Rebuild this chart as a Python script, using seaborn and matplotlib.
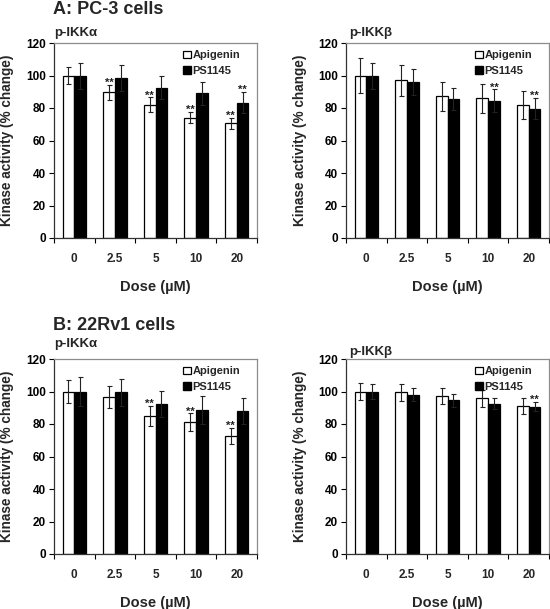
import pandas as pd
import matplotlib
matplotlib.use("Agg")
import matplotlib.pyplot as plt
import matplotlib.patches as mpatches
from matplotlib.ticker import FixedLocator
import seaborn as sns

# Dose levels (x categories)
doses = ["0", "2.5", "5", "10", "20"]
treatments = ["Apigenin", "PS1145"]

# A: PC-3 cells, p-IKKα
pc3_ikka_apigenin = [100, 89.7, 82, 74, 70.5]
pc3_ikka_apigenin_err = [5, 4.5, 4.5, 3.5, 3.5]
pc3_ikka_ps1145 = [100, 98.3, 92.5, 89, 83.3]
pc3_ikka_ps1145_err = [8, 8, 7, 7, 6.5]
pc3_ikka_apigenin_sig = [False, True, True, True, True]
pc3_ikka_ps1145_sig = [False, False, False, False, True]

# A: PC-3 cells, p-IKKβ
pc3_ikkb_apigenin = [100, 97, 87.3, 86, 82]
pc3_ikkb_apigenin_err = [10.5, 9.5, 9, 9, 8.5]
pc3_ikkb_ps1145 = [100, 96, 85.5, 84.4, 79.5]
pc3_ikkb_ps1145_err = [8, 8, 7, 7, 6.5]
pc3_ikkb_apigenin_sig = [False, False, False, False, False]
pc3_ikkb_ps1145_sig = [False, False, False, True, True]

# B: 22Rv1 cells, p-IKKα
rv1_ikka_apigenin = [100, 96.4, 85, 81, 72.5]
rv1_ikka_apigenin_err = [7, 6.7, 6, 5.5, 5]
rv1_ikka_ps1145 = [100, 99.4, 92.6, 88.5, 88.3]
rv1_ikka_ps1145_err = [9, 8.5, 8, 8.5, 8]
rv1_ikka_apigenin_sig = [False, False, True, True, True]
rv1_ikka_ps1145_sig = [False, False, False, False, False]

# B: 22Rv1 cells, p-IKKβ
rv1_ikkb_apigenin = [100, 99.4, 97.4, 95.7, 91]
rv1_ikkb_apigenin_err = [5, 5, 5, 5, 4.7]
rv1_ikkb_ps1145 = [100, 98, 94.6, 92.6, 90.6]
rv1_ikkb_ps1145_err = [4.5, 4, 4, 3.5, 2.8]
rv1_ikkb_apigenin_sig = [False, False, False, False, False]
rv1_ikkb_ps1145_sig = [False, False, False, False, True]

y_ticks = [0, 20, 40, 60, 80, 100, 120]

sns.set_style("ticks")
plt.rcParams["font.family"] = ["Liberation Sans", "DejaVu Sans"]
plt.rcParams["font.weight"] = "bold"


def draw_panel(ax, apig, apig_err, ps, ps_err, apig_sig, ps_sig, ylab_x):
    df = pd.DataFrame({
        "Dose": doses * 2,
        "Activity": apig + ps,
        "Treatment": [treatments[0]] * len(doses) + [treatments[1]] * len(doses),
    })
    sns.barplot(data=df, x="Dose", y="Activity", hue="Treatment", order=doses,
                hue_order=treatments, palette={"Apigenin": "white", "PS1145": "black"},
                edgecolor="black", linewidth=0.9, width=0.58, gap=0,
                errorbar=None, legend=False, ax=ax)

    # error bars and significance marks
    for cont, errs, sigs in zip(ax.containers, [apig_err, ps_err], [apig_sig, ps_sig]):
        xs = [b.get_x() + b.get_width() / 2 for b in cont]
        hs = [b.get_height() for b in cont]
        ax.errorbar(xs, hs, yerr=errs, fmt="none", ecolor="#222222",
                    elinewidth=0.8, capsize=1.8, capthick=0.8, zorder=3)
        for x, h, e, s in zip(xs, hs, errs, sigs):
            if s:
                ax.text(x, h + e - 1.8, "**", ha="center", va="bottom",
                        fontsize=8, fontweight="bold", color="#222222")

    ax.set_ylim(0, 120)
    ax.set_xlim(-0.5, len(doses) - 0.5)
    ax.set_yticks(y_ticks)
    ax.tick_params(axis="y", direction="out", length=3.5, width=0.8, pad=2.5,
                   labelsize=8.5, colors="black")
    ax.tick_params(axis="x", which="major", length=0, pad=11, labelsize=8.5)
    ax.xaxis.set_minor_locator(FixedLocator([i - 0.5 for i in range(len(doses) + 1)]))
    ax.tick_params(axis="x", which="minor", direction="out", length=3.5, width=0.8,
                   color="black")
    for lab in ax.get_xticklabels() + ax.get_yticklabels():
        lab.set_fontweight("bold")

    ax.set_xlabel("Dose (µM)", fontsize=10.5, fontweight="bold")
    ax.set_ylabel("Kinase activity (% change)", fontsize=9.8, fontweight="bold")
    ax.xaxis.set_label_coords(0.5, -0.215)
    ax.yaxis.set_label_coords(ylab_x, 0.5)

    for side in ["top", "right"]:
        ax.spines[side].set_visible(True)
        ax.spines[side].set_color("#8c8c8c")
        ax.spines[side].set_linewidth(0.9)
    for side in ["left", "bottom"]:
        ax.spines[side].set_color("#333333")
        ax.spines[side].set_linewidth(0.9)

    handles = [mpatches.Patch(facecolor="white", edgecolor="black", linewidth=0.9, label="Apigenin"),
               mpatches.Patch(facecolor="black", edgecolor="black", label="PS1145")]
    ax.legend(handles=handles, loc="upper right", bbox_to_anchor=(0.94, 0.985),
              frameon=False, handlelength=0.7, handleheight=0.7, handletextpad=0.15,
              labelspacing=0.5, borderaxespad=0,
              prop={"size": 8, "weight": "bold"})


fig = plt.figure(figsize=(5.5, 6.09), dpi=100)
W, H = 550, 609


def add_axes(left, top, right, bottom):
    return fig.add_axes([left / W, 1 - bottom / H, (right - left) / W, (bottom - top) / H])


ax_a1 = add_axes(54, 43, 257, 238)
ax_a2 = add_axes(346, 43, 549, 238)
ax_b1 = add_axes(54, 359, 257, 554)
ax_b2 = add_axes(346, 359, 549, 554)

draw_panel(ax_a1, pc3_ikka_apigenin, pc3_ikka_apigenin_err, pc3_ikka_ps1145,
           pc3_ikka_ps1145_err, pc3_ikka_apigenin_sig, pc3_ikka_ps1145_sig, -0.195)
draw_panel(ax_a2, pc3_ikkb_apigenin, pc3_ikkb_apigenin_err, pc3_ikkb_ps1145,
           pc3_ikkb_ps1145_err, pc3_ikkb_apigenin_sig, pc3_ikkb_ps1145_sig, -0.19)
draw_panel(ax_b1, rv1_ikka_apigenin, rv1_ikka_apigenin_err, rv1_ikka_ps1145,
           rv1_ikka_ps1145_err, rv1_ikka_apigenin_sig, rv1_ikka_ps1145_sig, -0.195)
draw_panel(ax_b2, rv1_ikkb_apigenin, rv1_ikkb_apigenin_err, rv1_ikkb_ps1145,
           rv1_ikkb_ps1145_err, rv1_ikkb_apigenin_sig, rv1_ikkb_ps1145_sig, -0.19)

# panel headings
fig.text(53 / W, 1 - 9 / H, "A: PC-3 cells", fontsize=13, fontweight="bold", va="center")
fig.text(54 / W, 1 - 33 / H, "p-IKKα", fontsize=9.5, fontweight="bold", va="center")
fig.text(349 / W, 1 - 33 / H, "p-IKKβ", fontsize=9.5, fontweight="bold", va="center")
fig.text(53 / W, 1 - 325 / H, "B: 22Rv1 cells", fontsize=13, fontweight="bold", va="center")
fig.text(54 / W, 1 - 344 / H, "p-IKKα", fontsize=9.5, fontweight="bold", va="center")
fig.text(349 / W, 1 - 352 / H, "p-IKKβ", fontsize=9.5, fontweight="bold", va="center")

fig.savefig("out.png", dpi=100)
